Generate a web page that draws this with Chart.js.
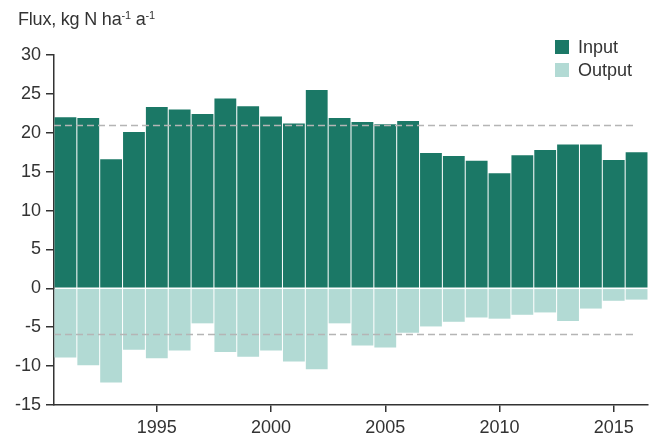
<!DOCTYPE html>
<html>
<head>
<meta charset="utf-8">
<script src="https://cdn.jsdelivr.net/npm/chart.js@4.4.1/dist/chart.umd.min.js"></script>
<style>
  html, body { margin: 0; padding: 0; background: #fff; }
  #wrap { position: relative; width: 652px; height: 435px; font-family: "Liberation Sans", Arial, sans-serif; color: #333; }
  canvas { position: absolute; left: 0; top: 0; }
  #title { position: absolute; left: 18px; top: 9px; font-size: 18px; letter-spacing: -0.2px; white-space: nowrap; }
  #title sup { font-size: 11px; vertical-align: 6px; line-height: 0; }
  .leg { position: absolute; left: 555px; font-size: 18px; white-space: nowrap; }
  .leg i { display: inline-block; width: 14px; height: 14px; margin-right: 9px; vertical-align: -1px; }
</style>
</head>
<body>
<div id="wrap">
  <canvas id="c" width="652" height="435"></canvas>
  <div id="title">Flux, kg N ha<sup>-1</sup> a<sup>-1</sup></div>
  <div class="leg" style="top:37px"><i style="background:#1b7866"></i>Input</div>
  <div class="leg" style="top:60px"><i style="background:#b2dad4"></i>Output</div>
</div>
<script>
// Annual nitrogen fluxes, 1991–2016
const years = [1991,1992,1993,1994,1995,1996,1997,1998,1999,2000,2001,2002,2003,
               2004,2005,2006,2007,2008,2009,2010,2011,2012,2013,2014,2015,2016];
const inputFlux = [22.0,21.9,16.6,20.1,23.3,23.0,22.4,24.4,23.4,22.1,21.2,25.5,21.9,
                   21.4,21.1,21.5,17.4,17.0,16.4,14.8,17.1,17.8,18.5,18.5,16.5,17.5];
const outputFlux = [-8.9,-9.9,-12.1,-7.9,-9.0,-8.0,-4.5,-8.2,-8.8,-8.0,-9.4,-10.4,-4.5,
                    -7.35,-7.6,-5.7,-4.9,-4.3,-3.75,-3.9,-3.4,-3.1,-4.2,-2.6,-1.6,-1.45];
// Long-term mean input and output
const meanLevels = [21.0, -5.9];
const yTicks = [-15, -10, -5, 0, 5, 10, 15, 20, 25, 30];

const axisColor = '#333333';
const tickFont = { family: '"Liberation Sans", Arial, sans-serif', size: 18 };

const meanLines = {
  id: 'meanLines',
  afterDatasetsDraw(chart) {
    const { ctx, chartArea, scales } = chart;
    const xEnd = scales.x.getPixelForValue(years.length - 1);
    ctx.save();
    ctx.strokeStyle = '#b5b5b5';
    ctx.lineWidth = 1.5;
    ctx.setLineDash([7, 4]);
    meanLevels.forEach(v => {
      const y = Math.round(scales.y.getPixelForValue(v)) + 0.5;
      ctx.beginPath();
      ctx.moveTo(chartArea.left, y);
      ctx.lineTo(xEnd, y);
      ctx.stroke();
    });
    ctx.restore();
  }
};

new Chart(document.getElementById('c'), {
  type: 'bar',
  data: {
    labels: years,
    datasets: [
      { label: 'Input', data: inputFlux, backgroundColor: '#1b7866' },
      { label: 'Output', data: outputFlux, backgroundColor: '#b2dad4' }
    ]
  },
  options: {
    responsive: false,
    animation: false,
    devicePixelRatio: 1,
    layout: { padding: { top: 55, right: 4, left: 0, bottom: 0 } },
    datasets: { bar: { grouped: false, barPercentage: 0.955, categoryPercentage: 1, borderWidth: 0 } },
    plugins: { legend: { display: false }, tooltip: { enabled: false } },
    scales: {
      x: {
        offset: true,
        grid: {
          offset: false,
          drawOnChartArea: false,
          drawTicks: true,
          tickLength: 7,
          lineWidth: 1.5,
          color: ctx => (years[ctx.index] % 5 === 0 ? axisColor : 'rgba(0,0,0,0)')
        },
        border: { display: true, color: axisColor, width: 1.5 },
        ticks: {
          autoSkip: false,
          maxRotation: 0,
          padding: 5,
          color: axisColor,
          font: tickFont,
          callback: (v, i) => (years[i] % 5 === 0 ? String(years[i]) : '')
        },
        afterFit: s => { s.height = 30; }
      },
      y: {
        min: -15,
        max: 30,
        afterBuildTicks: s => { s.ticks = yTicks.map(v => ({ value: v })); },
        grid: {
          drawOnChartArea: false,
          drawTicks: true,
          tickLength: 8,
          lineWidth: 1.5,
          color: axisColor
        },
        border: { display: true, color: axisColor, width: 1.5 },
        ticks: { padding: 5, color: axisColor, font: tickFont },
        afterFit: s => { s.width = 54; }
      }
    }
  },
  plugins: [meanLines]
});
</script>
</body>
</html>
